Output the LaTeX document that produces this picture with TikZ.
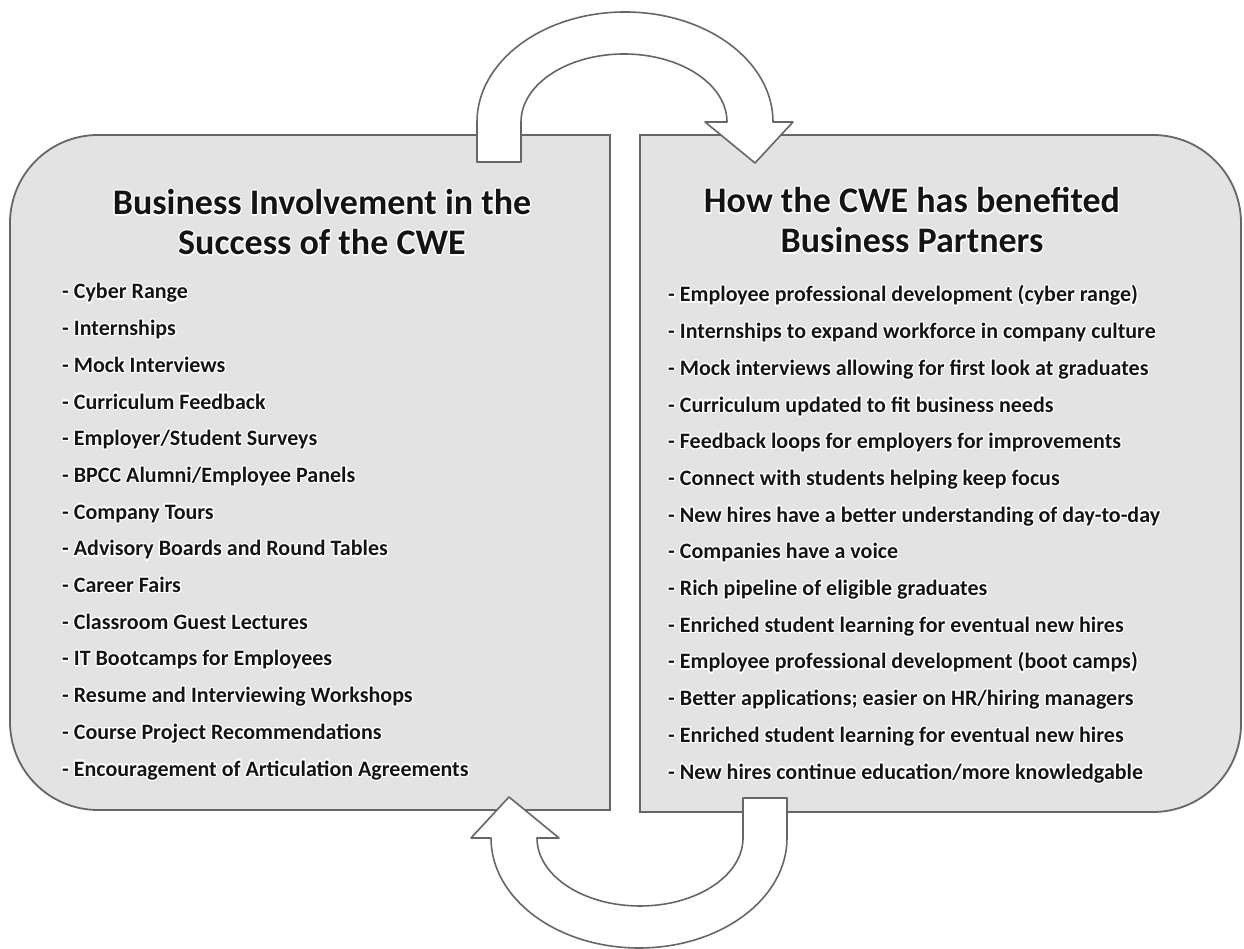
\documentclass[tikz,border=0pt]{standalone}
\usepackage{fontspec}
\setmainfont{Carlito}
\usepackage{contour}
\contourlength{1.2pt}
\contournumber{16}
\definecolor{boxfill}{HTML}{E3E3E3}
\definecolor{boxline}{HTML}{666666}
\definecolor{ink}{HTML}{141414}
\tikzset{
  panel/.style={fill=boxfill, draw=boxline, line width=1.8pt},
  looparrow/.style={fill=white, draw=boxline, line width=1.6pt, line join=round},
  title/.style={font=\fontsize{36}{40}\selectfont\bfseries, text=ink, align=center, inner sep=0pt},
  item/.style={font=\fontsize{22}{25}\selectfont\bfseries, text=ink, anchor=base west, inner sep=0pt}
}
\newcommand{\cw}[1]{\contour{white}{#1}}
\begin{document}
\begin{tikzpicture}[x=1pt,y=1pt]
\useasboundingbox (0,0) rectangle (1244,949);
% panels
\draw[panel] (610,814) -- (98,814) arc[start angle=90,end angle=180,radius=88]
  -- (10,227) arc[start angle=180,end angle=270,radius=88] -- (610,139) -- cycle;
\draw[panel] (640,814) -- (1153,814) arc[start angle=90,end angle=0,radius=88]
  -- (1241,225) arc[start angle=0,end angle=-90,radius=88] -- (640,137) -- cycle;
% top arrow
\draw[looparrow] (477,787) -- (477,827) arc[start angle=180,end angle=0,x radius=148,y radius=110]
  -- (793,827) -- (755,786) -- (705,827) -- (727,827)
  arc[start angle=0,end angle=180,x radius=103,y radius=68] -- (521,787) -- cycle;
% bottom arrow (same shape turned half round)
\begin{scope}[rotate around={180:(632,469)}]
\draw[looparrow] (477,787) -- (477,827) arc[start angle=180,end angle=0,x radius=148,y radius=110]
  -- (793,827) -- (755,786) -- (705,827) -- (727,827)
  arc[start angle=0,end angle=180,x radius=103,y radius=68] -- (521,787) -- cycle;
\end{scope}
% titles
\node[title] (lt) at (322,726) {\cw{Business Involvement in the}\\\cw{Success of the CWE}};
\node[title] (rt) at (912,728) {\cw{How the CWE has benefited}\\\cw{Business Partners}};
% left list
\foreach \t [count=\i from 0] in {
  {- Cyber Range},
  {- Internships},
  {- Mock Interviews},
  {- Curriculum Feedback},
  {- Employer/Student Surveys},
  {- BPCC Alumni/Employee Panels},
  {- Company Tours},
  {- Advisory Boards and Round Tables},
  {- Career Fairs},
  {- Classroom Guest Lectures},
  {- IT Bootcamps for Employees},
  {- Resume and Interviewing Workshops},
  {- Course Project Recommendations},
  {- Encouragement of Articulation Agreements}}
  \node[item] (l\i) at (62,{650-36.7*\i}) {\cw{\t}};
% right list
\foreach \t [count=\i from 0] in {
  {- Employee professional development (cyber range)},
  {- Internships to expand workforce in company culture},
  {- Mock interviews allowing for first look at graduates},
  {- Curriculum updated to fit business needs},
  {- Feedback loops for employers for improvements},
  {- Connect with students helping keep focus},
  {- New hires have a better understanding of day-to-day},
  {- Companies have a voice},
  {- Rich pipeline of eligible graduates},
  {- Enriched student learning for eventual new hires},
  {- Employee professional development (boot camps)},
  {- Better applications; easier on HR/hiring managers},
  {- Enriched student learning for eventual new hires},
  {- New hires continue education/more knowledgable}}
  \node[item] (r\i) at (668,{647-36.7*\i}) {\cw{\t}};
\end{tikzpicture}
\end{document}
